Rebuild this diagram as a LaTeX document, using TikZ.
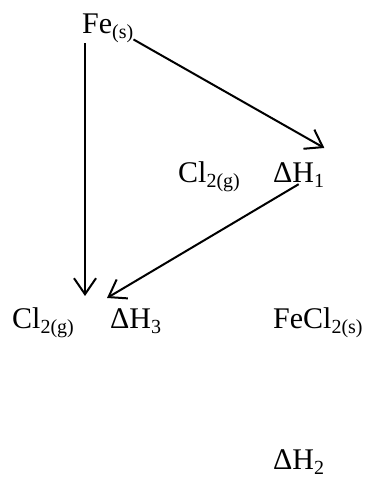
\documentclass[tikz,border=0pt]{standalone}
\usepackage{fontspec}
\setmainfont{Liberation Serif}
\usetikzlibrary{arrows.meta}
\newcommand{\lowtext}[1]{\raisebox{-5pt}{\fontsize{20}{24}\selectfont #1}}

\begin{document}
\begin{tikzpicture}[
    x=1pt, y=-1pt,
    term/.style={anchor=base west, inner sep=0pt, font=\fontsize{30}{36}\selectfont},
    arrow/.style={-{Straight Barb[length=16pt,width=22pt]}, line width=2pt, draw=black}
]
    \useasboundingbox (0,0) rectangle (369,479);
    \node[term] (fe) at (82,33) {Fe\lowtext{(s)}};
    \node[term] (cltop) at (178,182) {Cl\lowtext{2(g)}};
    \node[term] (dhone) at (273,182) {ΔH\lowtext{1}};
    \node[term] (clleft) at (12,328) {Cl\lowtext{2(g)}};
    \node[term] (dhthree) at (110,328) {ΔH\lowtext{3}};
    \node[term] (fecl) at (273,328) {FeCl\lowtext{2(s)}};
    \node[term] (dhtwo) at (273,469) {ΔH\lowtext{2}};

    \draw[arrow] ([yshift=3pt]fe.south east) -- ([yshift=14pt]dhone.north east);
    \draw[arrow] ([yshift=3pt]dhone.south) -- ([xshift=-3pt,yshift=10pt]dhthree.north west);
    \draw[arrow] ([xshift=3pt,yshift=-1pt]fe.south west) -- ([xshift=3pt,yshift=12pt]fe.south west |- dhthree.north);
\end{tikzpicture}
\end{document}
